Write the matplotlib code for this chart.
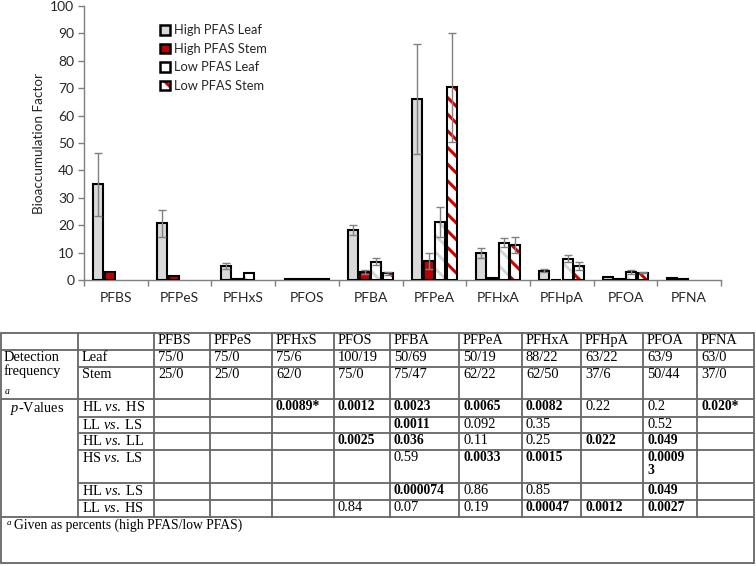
#!/usr/bin/env python3
"""Bioaccumulation factors of PFAS in leaf/stem with detection frequency and p-value table."""

import matplotlib

matplotlib.use("Agg")
import matplotlib.pyplot as plt
import numpy as np
from matplotlib.legend_handler import HandlerTuple
from matplotlib.patches import Patch

plt.rcParams["hatch.linewidth"] = 2.2
plt.rcParams["mathtext.fontset"] = "custom"
plt.rcParams["mathtext.rm"] = "Liberation Serif"
plt.rcParams["mathtext.it"] = "Liberation Serif:italic"
plt.rcParams["mathtext.bf"] = "Liberation Serif:bold"

COMPOUNDS = ["PFBS", "PFPeS", "PFHxS", "PFOS", "PFBA",
             "PFPeA", "PFHxA", "PFHpA", "PFOA", "PFNA"]

# bar heights and error bars
HL = [35.0, 20.7, 5.1, 0.3, 18.3, 66.0, 9.7, 3.4, 1.0, 0.8]
HL_ERR = [11.5, 5.0, 1.0, 0, 1.7, 20.0, 1.8, 0.5, 0, 0]
HS = [3.0, 1.3, 0.4, 0.2, 3.0, 7.0, 0.6, 0.1, 0.3, 0.4]
HS_ERR = [0, 0, 0, 0, 0.8, 3.0, 0, 0, 0, 0]
LL = [0, 0, 2.7, 0.2, 6.7, 21.3, 13.6, 7.8, 3.0, 0]
LL_ERR = [0, 0, 0, 0, 1.3, 5.5, 1.7, 1.3, 0.7, 0]
LS = [0, 0, 0, 0.2, 2.4, 70.3, 12.8, 5.2, 2.7, 0]
LS_ERR = [0, 0, 0, 0, 0.5, 19.8, 2.9, 1.4, 0.3, 0]

# table
DET_LEAF = ["75/0", "75/0", "75/6", "100/19", "50/69",
            "50/19", "88/22", "63/22", "63/9", "63/0"]
DET_STEM = ["25/0", "25/0", "62/0", "75/0", "75/47",
            "62/22", "62/50", "37/6", "50/44", "37/0"]
COMPARISONS = [("HL", "HS"), ("LL", "LS"), ("HL", "LL"),
               ("HS", "LS"), ("HL", "LS"), ("LL", "HS")]
P_HL_HS = ["", "", "0.0089*", "0.0012", "0.0023", "0.0065", "0.0082", "0.22", "0.2", "0.020*"]
P_LL_LS = ["", "", "", "", "0.0011", "0.092", "0.35", "", "0.52", ""]
P_HL_LL = ["", "", "", "0.0025", "0.036", "0.11", "0.25", "0.022", "0.049", ""]
P_HS_LS = ["", "", "", "", "0.59", "0.0033", "0.0015", "", "0.00093", ""]
P_HL_LS = ["", "", "", "", "0.000074", "0.86", "0.85", "", "0.049", ""]
P_LL_HS = ["", "", "", "0.84", "0.07", "0.19", "0.00047", "0.0012", "0.0027", ""]
FOOTNOTE = "Given as percents (high PFAS/low PFAS)"

W, H = 756, 566
TXT = "#262626"
AXC = "#7f7f7f"
SANS = "Lato"

fig = plt.figure(figsize=(W / 100, H / 100), dpi=100)
ax = fig.add_axes([84 / W, 1 - 280 / H, (721 - 84) / W, (280 - 6) / H])

x = np.arange(len(COMPOUNDS))
step = 0.182
bw = 0.157
# label, values, errors, face colour, hatch colour, bar hatch, legend hatch
series = [
    ("High PFAS Leaf", HL, HL_ERR, "#d9d9d9", None, None, None),
    ("High PFAS Stem", HS, HS_ERR, "#c00000", None, None, None),
    ("Low PFAS Leaf", LL, LL_ERR, "white", "#d6d6d6", "\\\\", None),
    ("Low PFAS Stem", LS, LS_ERR, "white", "#d40000", "\\\\", "\\\\"),
]
handles = []
for i, (label, vals, errs, fc, hc, hatch, lhatch) in enumerate(series):
    vals = np.array(vals, dtype=float)
    errs = np.array(errs, dtype=float)
    keep = vals > 0
    pos = (x + (i - 1.5) * step)[keep]
    v = vals[keep]
    e = errs[keep]
    if hatch:
        ax.bar(pos, v, bw, color=fc, edgecolor=hc, hatch=hatch, lw=0, zorder=2)
    else:
        ax.bar(pos, v, bw, color=fc, lw=0, zorder=2)
    ax.bar(pos, v, bw, fill=False, edgecolor="black", lw=1.5, zorder=3)
    m = e > 0
    ax.errorbar(pos[m], v[m], yerr=e[m], fmt="none", ecolor="#808080",
                elinewidth=1.0, capsize=3, capthick=1.0, zorder=4)
    frame = Patch(fill=False, edgecolor="black", lw=1.8)
    if lhatch:
        inner = Patch(facecolor=fc, edgecolor=hc, hatch=lhatch, lw=0)
    else:
        inner = Patch(facecolor=fc, lw=0)
    handles.append(((inner, frame), label))

ax.set_xlim(-0.5, len(COMPOUNDS) - 0.5)
ax.set_ylim(0, 100)
ax.set_yticks(np.arange(0, 101, 10))
ax.set_xticks(x)
ax.set_xticklabels(COMPOUNDS)
ax.set_xticks(np.arange(-0.5, len(COMPOUNDS)), minor=True)
ax.tick_params(axis="x", which="major", length=0, pad=9, labelsize=10, labelcolor=TXT)
ax.tick_params(axis="x", which="minor", length=4, color=AXC, width=1)
ax.tick_params(axis="y", length=4, color=AXC, width=1, pad=3, labelsize=10, labelcolor=TXT)
for s in ("top", "right"):
    ax.spines[s].set_visible(False)
for s in ("left", "bottom"):
    ax.spines[s].set_color(AXC)
    ax.spines[s].set_linewidth(1)
for lab in ax.get_xticklabels() + ax.get_yticklabels():
    lab.set_family(SANS)
ax.set_ylabel("Bioaccumulation Factor", fontsize=9.7, family=SANS, color=TXT, labelpad=4)

leg = ax.legend([h for h, _ in handles], [l for _, l in handles],
                handler_map={tuple: HandlerTuple(ndivide=1, pad=0)},
                loc="upper left", bbox_to_anchor=(154 / W, 1 - 18 / H),
                bbox_transform=fig.transFigure, frameon=False, handlelength=0.75,
                handleheight=0.75, handletextpad=0.3, labelspacing=0.5, borderpad=0,
                prop={"family": SANS, "size": 9.3})
for t in leg.get_texts():
    t.set_color(TXT)

# ---- table drawn in pixel coordinates ----
tax = fig.add_axes([0, 0, 1, 1])
tax.set_xlim(0, W)
tax.set_ylim(H, 0)
tax.axis("off")

COLS = [1, 78, 154, 210, 272, 334, 390, 459, 522, 581, 643, 697, 754]
ROWS = [333, 350, 367, 399, 417, 433, 450, 483, 500, 517, 563]
LC = "#666666"
LW = 1.3
FS = 10.4
FS_BOLD = 9.8
SERIF = "Liberation Serif"

full = {0, 1, 3, 9, 10}
for j, yy in enumerate(ROWS):
    x0 = COLS[0] if j in full else COLS[1]
    tax.plot([x0, COLS[-1]], [yy, yy], color=LC, lw=LW, solid_capstyle="butt")
tax.plot([COLS[0]] * 2, [ROWS[0], ROWS[-1]], color=LC, lw=LW)
tax.plot([COLS[-1]] * 2, [ROWS[0], ROWS[-1]], color=LC, lw=LW)
for cx in COLS[1:-1]:
    tax.plot([cx, cx], [ROWS[0], ROWS[-2]], color=LC, lw=LW)


def cell(col, row, s, bold=False):
    left, right = COLS[col], COLS[col + 1]
    n = int((right - left - 10) / 6.8)
    if len(s) > n:
        s = s[:n] + "\n" + s[n:]
    tax.text(left + 4, ROWS[row] + 1, s, fontsize=FS_BOLD if bold else FS,
             family=SERIF, va="top", ha="left",
             weight="bold" if bold else "normal", linespacing=1.05)


for k, name in enumerate(COMPOUNDS):
    cell(k + 2, 0, name)
    cell(k + 2, 1, DET_LEAF[k])
    cell(k + 2, 2, DET_STEM[k])

cell(1, 1, "Leaf")
cell(1, 2, "Stem")
tax.text(4, ROWS[1] + 1, "Detection\nfrequency", fontsize=FS, family=SERIF,
         va="top", ha="left", linespacing=1.05)
tax.text(5, 392, "a", fontsize=7, family=SERIF, style="italic", va="center")
tax.text(10, ROWS[3] + 1, r"$\mathit{p}$-Values", fontsize=FS, family=SERIF,
         va="top", ha="left")

pvals = [P_HL_HS, P_LL_LS, P_HL_LL, P_HS_LS, P_HL_LS, P_LL_HS]
for r, ((a, b), row) in enumerate(zip(COMPARISONS, pvals)):
    tax.text(COLS[1] + 4, ROWS[r + 3] + 1, a + r" $\mathit{vs.}$ " + b, fontsize=FS,
             family=SERIF, va="top", ha="left")
    for k, s in enumerate(row):
        if s:
            cell(k + 2, r + 3, s, bold=float(s.rstrip("*")) < 0.05)

tax.text(7, 519, "a", fontsize=6.5, family=SERIF, style="italic", va="top")
tax.text(14, ROWS[9] + 1.5, FOOTNOTE, fontsize=9.8, family=SERIF, va="top", ha="left")

fig.savefig("out.png", dpi=100)
